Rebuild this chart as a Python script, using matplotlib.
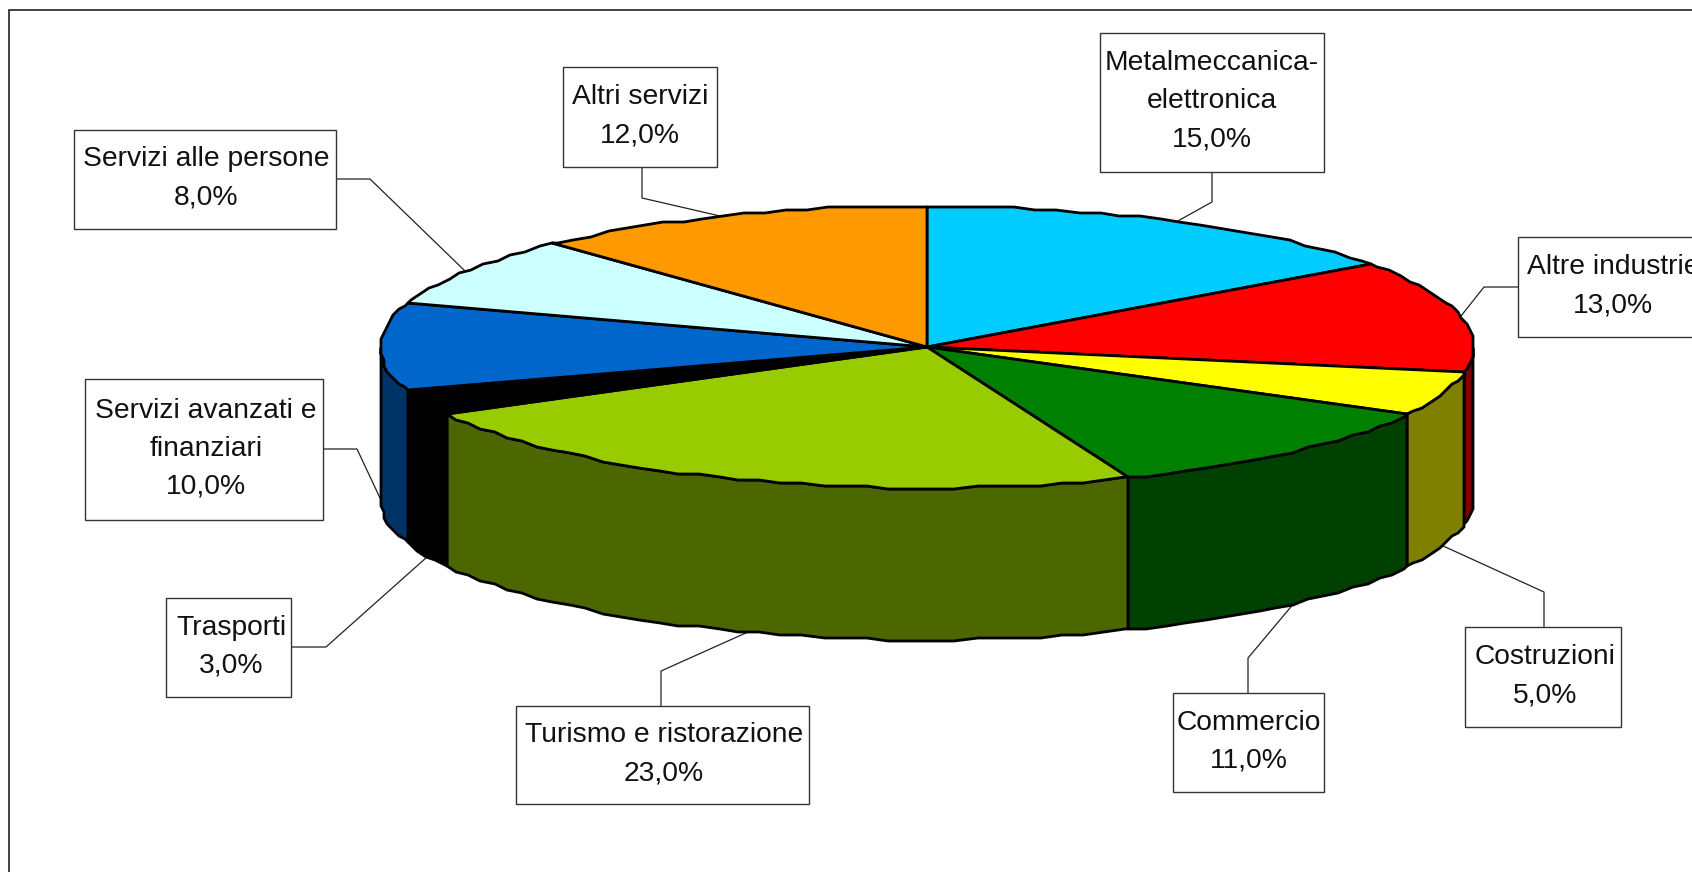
import numpy as np
import matplotlib
matplotlib.use("Agg")
import matplotlib.pyplot as plt
from matplotlib.patches import Polygon, Rectangle

plt.rcParams['font.family'] = ['Liberation Sans', 'DejaVu Sans']

# Data, clockwise from 12 o'clock
categories = ["Metalmeccanica-\nelettronica", "Altre industrie", "Costruzioni", "Commercio",
              "Turismo e ristorazione", "Trasporti", "Servizi avanzati e\nfinanziari",
              "Servizi alle persone", "Altri servizi"]
shares = [15.0, 13.0, 5.0, 11.0, 23.0, 3.0, 10.0, 8.0, 12.0]
top_colors = ["#00CCFF", "#FF0000", "#FFFF00", "#008000", "#99CC00",
              "#000000", "#0066CC", "#CCFFFF", "#FF9900"]
side_colors = ["#006680", "#800000", "#808000", "#004000", "#4C6600",
               "#000000", "#003366", "#668080", "#804C00"]

# Layout in pixels of the picture
W, H = 1692, 872
CX, CY = 927, 347
RX, RY = 547, 141
DEPTH = 152
SNAP = 3.0  # the source rim is a rough polygon, not a clean ellipse
# label box: left, top, right, bottom
boxes = [(1100, 33, 1324, 172), (1518, 237, 1700, 337), (1465, 627, 1621, 727),
         (1173, 693, 1324, 792), (516, 706, 809, 804), (166, 598, 291, 697),
         (85, 379, 323, 520), (74, 130, 336, 229), (563, 67, 717, 167)]
text_x = [1212, 1613, 1545, 1249, 664, 231, 206, 206, 640]
leaders = [[(1212, 172), (1212, 202), (1176, 222)],
           [(1518, 287), (1484, 287), (1461, 316)],
           [(1544, 627), (1544, 592), (1441, 545)],
           [(1248, 693), (1248, 658), (1295, 602)],
           [(661, 706), (661, 671), (748, 632)],
           [(291, 647), (326, 647), (427, 557)],
           [(323, 449), (357, 449), (380, 498)],
           [(336, 179), (370, 179), (464, 270)],
           [(642, 167), (642, 198), (720, 216)]]


def rim(a0, a1):
    """Rim points between two angles (degrees clockwise from the top), in pixels."""
    inner = np.arange(np.ceil(a0 / 2.3), np.floor(a1 / 2.3) + 1) * 2.3
    t = np.radians(np.r_[a0, inner[(inner > a0) & (inner < a1)], a1])
    x = np.round((CX + RX * np.sin(t)) / SNAP) * SNAP
    y = np.round((CY - RY * np.cos(t)) / SNAP) * SNAP
    return np.c_[x, y]


fig = plt.figure(figsize=(W / 100, H / 100), dpi=100, facecolor="white")
ax = fig.add_axes([0, 0, 1, 1])
ax.set_xlim(0, W)
ax.set_ylim(H, 0)
ax.axis("off")

ax.plot([9, 9, W], [H, 10, 10], color="#222222", lw=1.2, solid_joinstyle="miter")

edges = np.cumsum([0] + shares) / sum(shares) * 360

# Side wall, only the front half of the rim shows
for i, color in enumerate(side_colors):
    a0 = max(edges[i], 90)
    a1 = min(edges[i + 1], 270)
    if a1 <= a0:
        continue
    upper = rim(a0, a1)
    lower = upper[::-1] + [0, DEPTH]
    ax.add_patch(Polygon(np.r_[upper, lower], closed=True, facecolor=color, edgecolor="black",
                         linewidth=2.0, joinstyle="round", zorder=2))

# Top face
for i, color in enumerate(top_colors):
    pts = np.r_[[[CX, CY]], rim(edges[i], edges[i + 1])]
    ax.add_patch(Polygon(pts, closed=True, facecolor=color, edgecolor="black",
                         linewidth=2.0, joinstyle="round", zorder=3))

# Leaders and label boxes
for i, name in enumerate(categories):
    xs, ys = zip(*leaders[i])
    ax.plot(xs, ys, color="#222222", lw=0.9, zorder=1)
    l, t, r, b = boxes[i]
    ax.add_patch(Rectangle((l, t), r - l, b - t, facecolor="white", edgecolor="#333333", lw=1.0, zorder=4))
    label = name + "\n" + f"{shares[i]:.1f}%".replace(".", ",")
    ax.text(text_x[i], (t + b) / 2 - 1, label, ha="center", va="center", fontsize=20.3,
            linespacing=1.6, color="#111111", zorder=5)

fig.savefig("out.png", dpi=100)
